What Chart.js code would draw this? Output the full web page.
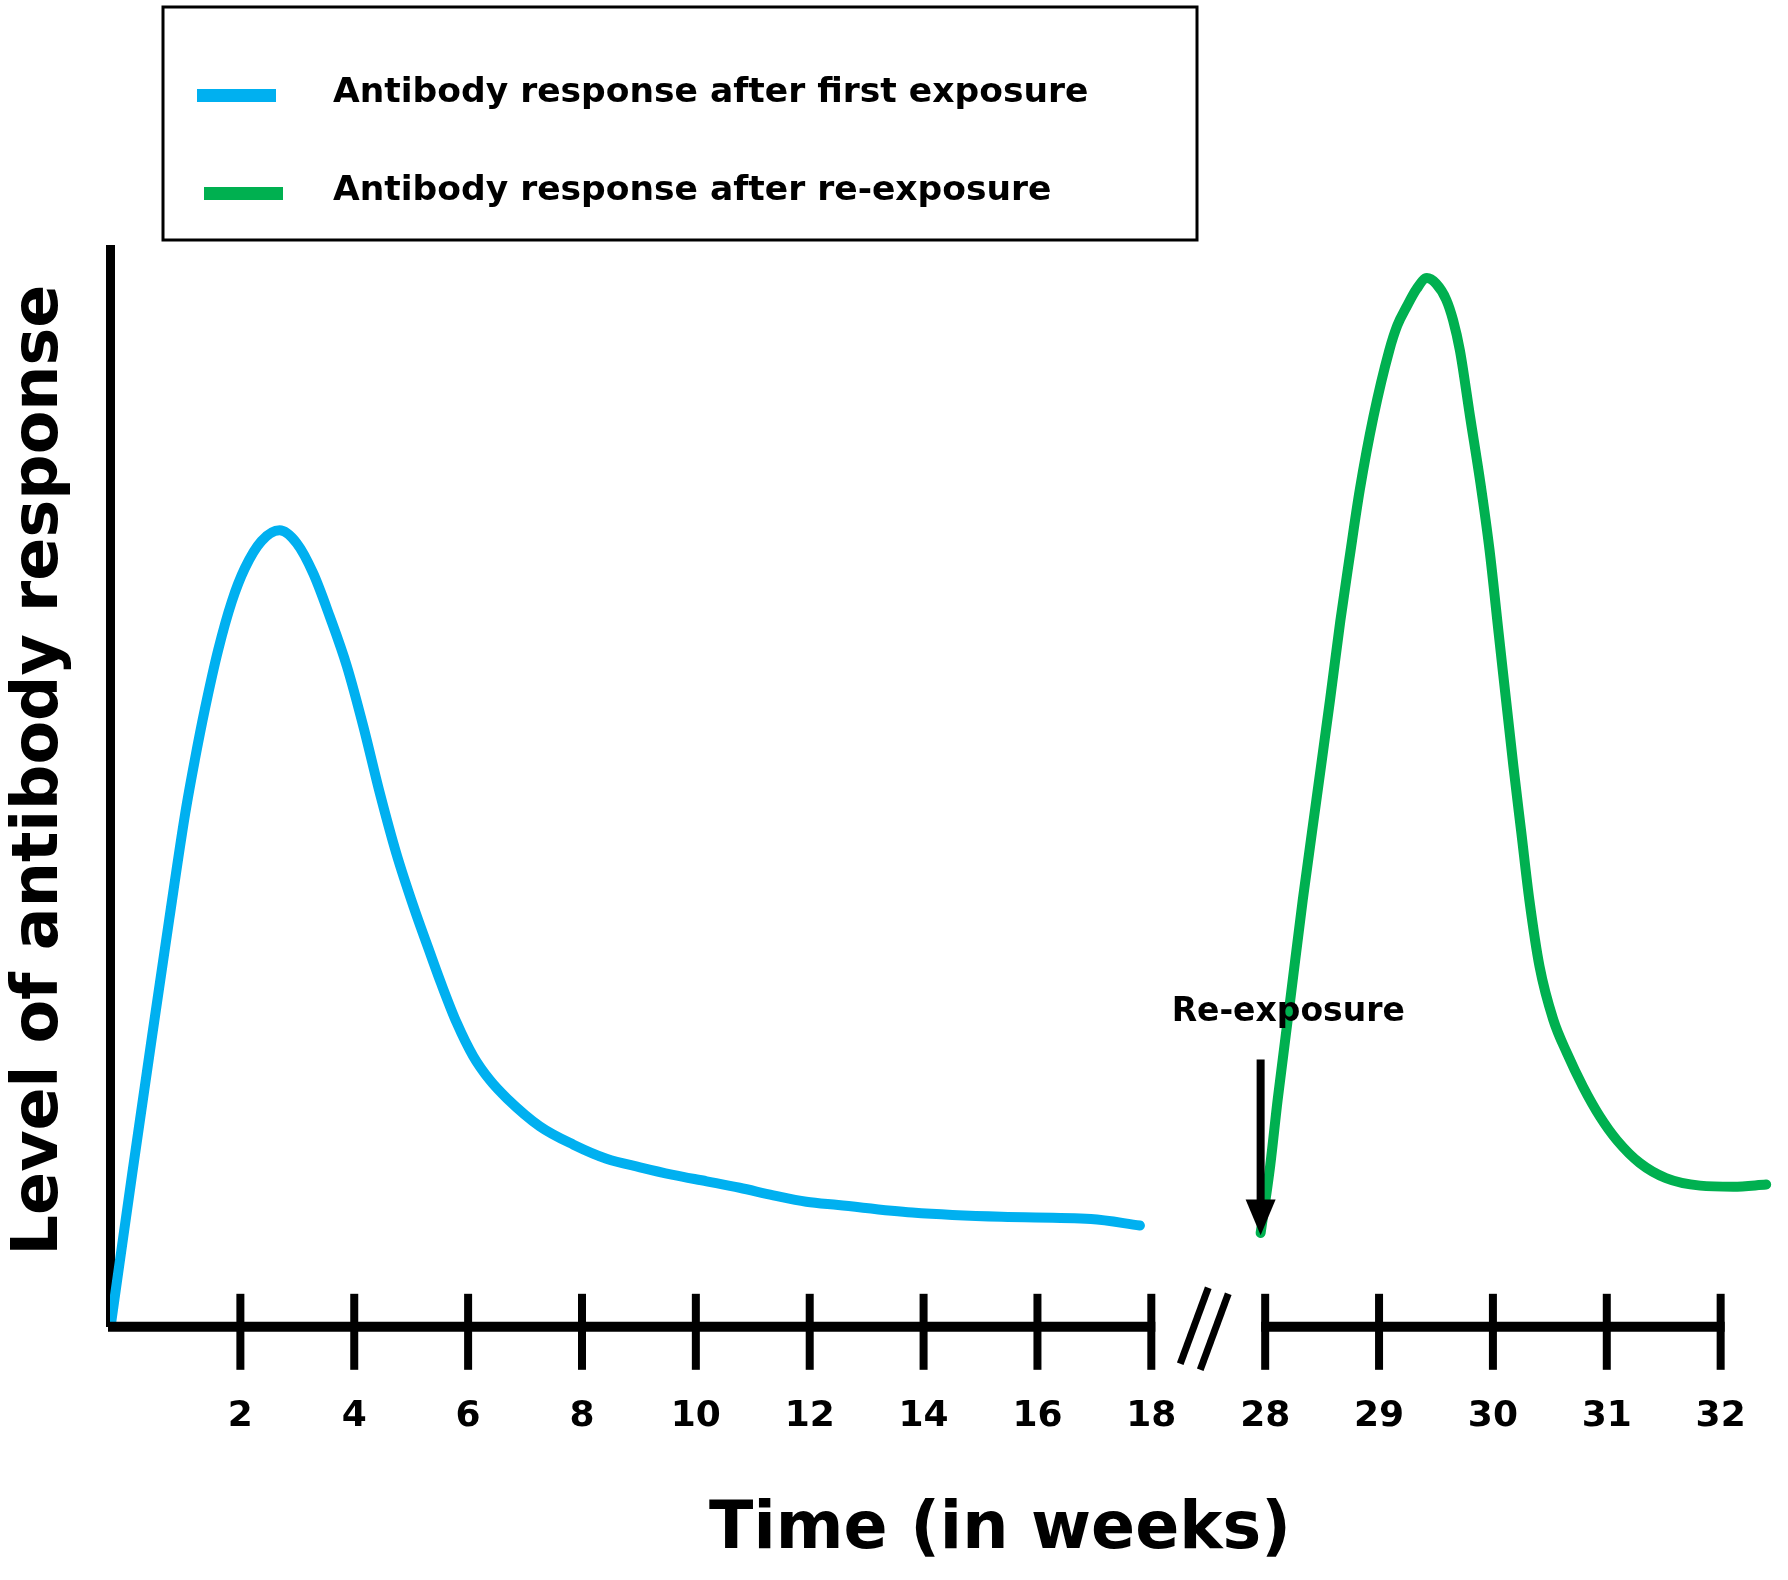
<!DOCTYPE html>
<html>
<head>
<meta charset="utf-8">
<title>Antibody response</title>
<script src="https://cdn.jsdelivr.net/npm/chart.js@4.4.1/dist/chart.umd.min.js"></script>
<style>
  html, body { margin: 0; padding: 0; background: #fff; }
  #wrap { width: 1788px; height: 1580px; position: relative; }
</style>
</head>
<body>
<div id="wrap"><canvas id="myChart"></canvas></div>
<script>
'use strict';

// weeks on the axis, the axis is broken between 18 and 28
let tickWeeks = [2, 4, 6, 8, 10, 12, 14, 16, 18, 28, 29, 30, 31, 32];
let tickLabels = ['2', '4', '6', '8', '10', '12', '14', '16', '18', '28', '29', '30', '31', '32'];

// first exposure (weeks, level)
let firstWeeks = [-0.28, 0.1, 0.45, 0.75, 1.03, 1.2, 1.38, 1.61, 1.85, 2.08, 2.37,
  2.69, 2.99, 3.28, 3.57, 3.87, 4.16, 4.45, 4.74, 5.04, 5.33, 5.53, 5.8, 6.09, 6.38, 6.68, 7.26,
  7.85, 8.43, 9.02, 9.6, 10.19, 10.77, 11.36, 11.94, 12.5, 13.8, 15.37, 16.94, 17.8];
let firstLevels = [0, 14.2, 27.0, 37.8, 47.6, 52.6, 57.4, 62.8, 67.3, 70.4, 72.9,
  73.9, 72.7, 69.9, 65.9, 61.3, 55.7, 49.5, 43.9, 39.0, 34.7, 31.8, 28.2, 25.1, 22.9, 21.2, 18.6,
  16.9, 15.6, 14.8, 14.1, 13.5, 12.9, 12.2, 11.6, 11.3, 10.6, 10.2, 10.0, 9.4];

// re-exposure (weeks, level)
let reWeeks = [27.96, 28.04, 28.11, 28.22, 28.33, 28.45, 28.57, 28.66, 28.74, 28.83, 28.95,
  29.09, 29.16, 29.24, 29.33, 29.42, 29.5, 29.59, 29.65, 29.71, 29.8, 29.89, 29.97, 30.05, 30.18,
  30.25, 30.32, 30.41, 30.53, 30.65, 30.79, 30.94, 31.09, 31.29, 31.52, 31.82, 32.11, 32.4];
let reLevels = [8.7, 14.6, 21.1, 30.3, 39.6, 48.9, 58.2, 65.5, 71.3, 77.6, 84.4,
  90.6, 92.9, 94.6, 96.3, 97.3, 96.8, 95.3, 93.4, 90.6, 84.4, 78.3, 72.1, 64.4, 52.0,
  45.8, 39.6, 33.4, 28.5, 25.4, 22.3, 19.5, 17.3, 15.2, 13.8, 13.1, 13.0, 13.2];

let seriesNames = ['Antibody response after first exposure', 'Antibody response after re-exposure'];
let seriesColors = ['#00B0F0', '#00B050'];

let reExposureWeek = 27.96;
let reExposureLabel = 'Re-exposure';

let FONT = '"DejaVu Sans", Verdana, sans-serif';

// map a week onto the broken axis
const BREAK_START = 18;
const BREAK_END = 28;
const LATE_START = 20;
const LATE_STRETCH = 2;
function toAxis(week) {
  if (week <= BREAK_START) {
    return week;
  }
  return LATE_START + (week - BREAK_END) * LATE_STRETCH;
}

function toPoints(weeks, levels) {
  let pts = [];
  for (let i = 0; i < weeks.length; i++) {
    pts.push({ x: toAxis(weeks[i]), y: levels[i] });
  }
  return pts;
}

function strokeLine(ctx, x1, y1, x2, y2) {
  ctx.beginPath();
  ctx.moveTo(x1, y1);
  ctx.lineTo(x2, y2);
  ctx.stroke();
}

// broken x axis, tick marks, break slashes and the re-exposure arrow
let axisArt = {
  id: 'axisArt',
  afterDatasetsDraw(chart) {
    let ctx = chart.ctx;
    let xs = chart.scales.x;
    let ys = chart.scales.y;
    let y0 = ys.getPixelForValue(0);
    ctx.save();
    ctx.strokeStyle = '#000';
    ctx.fillStyle = '#000';

    // axis segments
    ctx.lineWidth = 10;
    let endFirst = xs.getPixelForValue(toAxis(BREAK_START)) + 4;
    strokeLine(ctx, chart.chartArea.left - 2, y0, endFirst, y0);
    strokeLine(ctx, xs.getPixelForValue(toAxis(BREAK_END)) - 4, y0,
      xs.getPixelForValue(toAxis(tickWeeks[tickWeeks.length - 1])) + 4, y0);

    // tick marks crossing the axis
    ctx.lineWidth = 8;
    xs.ticks.forEach(function (t) {
      let px = xs.getPixelForValue(t.value);
      strokeLine(ctx, px, y0 - 33, px, y0 + 43);
    });

    // break slashes
    let mid = (xs.getPixelForValue(toAxis(BREAK_START)) + xs.getPixelForValue(toAxis(BREAK_END))) / 2;
    ctx.lineWidth = 7;
    for (let k = 0; k < 2; k++) {
      let cx = mid - 14 + 20 * k;
      let cy = y0 + 6 * k - 1;
      strokeLine(ctx, cx + 14, cy - 38, cx - 14, cy + 38);
    }

    // re-exposure arrow
    let ax = xs.getPixelForValue(toAxis(reExposureWeek));
    let top = ys.getPixelForValue(24.8);
    let base = ys.getPixelForValue(11.8);
    let tip = ys.getPixelForValue(8.5);
    ctx.lineWidth = 8;
    strokeLine(ctx, ax, top, ax, base + 2);
    ctx.beginPath();
    ctx.moveTo(ax - 15, base);
    ctx.lineTo(ax + 15, base);
    ctx.lineTo(ax, tip);
    ctx.closePath();
    ctx.fill();

    ctx.font = 'bold 33px ' + FONT;
    ctx.textAlign = 'left';
    ctx.textBaseline = 'alphabetic';
    ctx.fillText(reExposureLabel, ax - 89, ys.getPixelForValue(28.4));
    ctx.restore();
  },
  afterDraw(chart) {
    let ctx = chart.ctx;
    ctx.save();

    // legend box
    ctx.strokeStyle = '#000';
    ctx.lineWidth = 3;
    ctx.strokeRect(163, 7, 1034, 233);
    let rows = [102, 200];
    let swatchX = [197, 204];
    ctx.font = 'bold 34.5px ' + FONT;
    ctx.textAlign = 'left';
    ctx.textBaseline = 'alphabetic';
    chart.data.datasets.forEach(function (ds, i) {
      ctx.fillStyle = ds.borderColor;
      ctx.fillRect(swatchX[i], rows[i] - 13, 79, 13);
      ctx.fillStyle = '#000';
      ctx.fillText(ds.label, 333, rows[i]);
    });

    // axis titles
    ctx.fillStyle = '#000';
    ctx.font = 'bold 65px ' + FONT;
    ctx.textAlign = 'center';
    ctx.fillText('Time (in weeks)', 1000, 1548);

    ctx.translate(57, 770);
    ctx.rotate(-Math.PI / 2);
    ctx.font = 'bold 63.5px ' + FONT;
    ctx.fillText('Level of antibody response', 0, 0);
    ctx.restore();
  }
};

let ctx = document.getElementById('myChart').getContext('2d');
let myChart = new Chart(ctx, {
  type: 'line',
  data: {
    datasets: [{
      label: seriesNames[0],
      data: toPoints(firstWeeks, firstLevels),
      borderColor: seriesColors[0],
      borderWidth: 10,
      borderCapStyle: 'round',
      borderJoinStyle: 'round',
      cubicInterpolationMode: 'monotone',
      pointRadius: 0,
      fill: false
    },
    {
      label: seriesNames[1],
      data: toPoints(reWeeks, reLevels),
      borderColor: seriesColors[1],
      borderWidth: 10,
      borderCapStyle: 'round',
      borderJoinStyle: 'round',
      cubicInterpolationMode: 'monotone',
      pointRadius: 0,
      fill: false
    }]
  },
  options: {
    responsive: true,
    maintainAspectRatio: false,
    animation: false,
    events: [],
    layout: {
      padding: { top: 249, left: 110, right: 7, bottom: 142 }
    },
    plugins: {
      legend: { display: false },
      tooltip: { enabled: false }
    },
    scales: {
      x: {
        type: 'linear',
        min: -0.29,
        max: 29.06,
        afterBuildTicks: function (scale) {
          scale.ticks = tickWeeks.map(function (w) { return { value: toAxis(w) }; });
        },
        ticks: {
          autoSkip: false,
          maxRotation: 0,
          padding: 0,
          color: '#000',
          font: { family: FONT, size: 36, weight: 'bold' },
          callback: function (value, index) { return tickLabels[index]; }
        },
        grid: { display: true, drawOnChartArea: false, drawTicks: true, tickLength: 68, color: 'rgba(0,0,0,0)' },
        border: { display: false }
      },
      y: {
        min: 0,
        max: 100,
        ticks: { display: false },
        grid: { display: true, drawOnChartArea: false, drawTicks: false },
        border: { display: true, color: '#000', width: 9 }
      }
    }
  },
  plugins: [axisArt]
});
</script>
</body>
</html>
